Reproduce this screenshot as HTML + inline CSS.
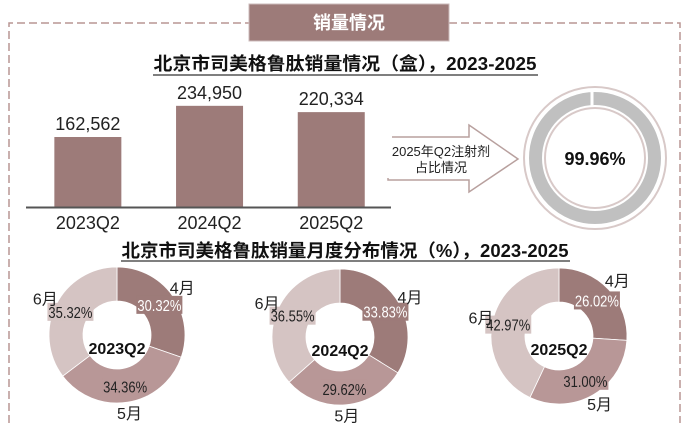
<!DOCTYPE html>
<html><head><meta charset="utf-8">
<style>
html,body{margin:0;padding:0;background:#fff;}
svg{display:block;font-family:"Liberation Sans","Noto Sans CJK SC",sans-serif;}
</style></head>
<body>
<svg id="chart" width="686" height="423" viewBox="0 0 686 423" xmlns="http://www.w3.org/2000/svg">
  <path d="M9,423 V23 H249 M449,23 H680 V423" fill="none" stroke="#b99594" stroke-width="1.5" stroke-dasharray="8,4"/>
  <rect x="249" y="4" width="200" height="37" fill="#9d7b79" stroke="#cbb" stroke-width="1"/>
  <text x="349" y="29" text-anchor="middle" font-size="18" font-weight="bold" fill="#fff">销量情况</text>

  <text x="345" y="70" text-anchor="middle" font-size="18" font-weight="bold" fill="#111" textLength="383" lengthAdjust="spacingAndGlyphs">北京市司美格鲁肽销量情况（盒），2023-2025</text>
  <line x1="153" y1="75" x2="538" y2="75" stroke="#333" stroke-width="1.2"/>
  <g id="bars"></g>
  <line x1="26" y1="207.5" x2="391" y2="207.5" stroke="#555" stroke-width="2"/>

  <polygon points="388,137 469,137 469,125 518,159 469,192 469,180 388,180" fill="#fff" stroke="#b8a09e" stroke-width="1.5"/>
  <rect x="386" y="130" width="6" height="48" fill="#fff"/>
  <text x="441" y="156" text-anchor="middle" font-size="13" fill="#222">2025年Q2注射剂</text>
  <text x="441" y="172" text-anchor="middle" font-size="13" fill="#222">占比情况</text>

  <circle cx="595" cy="158" r="71" fill="none" stroke="#d8c9c8" stroke-width="2"/>
  <circle cx="595" cy="158" r="59.5" fill="none" stroke="#c0c0c0" stroke-width="13"/>
  <line x1="592" y1="90" x2="592" y2="108" stroke="#fff" stroke-width="3"/>
  <circle cx="595" cy="158" r="50" fill="none" stroke="#d8c9c8" stroke-width="2"/>
  <text x="595" y="165" text-anchor="middle" font-size="18" font-weight="bold" fill="#111">99.96%</text>

  <text x="345" y="257" text-anchor="middle" font-size="18" font-weight="bold" fill="#111" textLength="447" lengthAdjust="spacingAndGlyphs">北京市司美格鲁肽销量月度分布情况（%），2023-2025</text>
  <line x1="121" y1="261" x2="570" y2="261" stroke="#333" stroke-width="1.2"/>
  <g id="donuts"></g>
</svg>
<script>
const barCategories = ["2023Q2", "2024Q2", "2025Q2"];
const barValues = [162562, 234950, 220334];
const barLabels = ["162,562", "234,950", "220,334"];

const donutYears = ["2023Q2", "2024Q2", "2025Q2"];
const monthNames = ["4月", "5月", "6月"];
const share2023 = [30.32, 34.36, 35.32];
const share2024 = [33.83, 29.62, 36.55];
const share2025 = [26.02, 31.00, 42.97];

const NS = "http://www.w3.org/2000/svg";
function mk(tag, attrs, parent) {
  const e = document.createElementNS(NS, tag);
  for (const k in attrs) e.setAttribute(k, attrs[k]);
  parent.appendChild(e);
  return e;
}

const baseY = 207, pxPerUnit = 70 / 162562;
const bandStart = 26, bandW = 121.7, barW = 67;
const yScale = v => baseY - v * pxPerUnit;
const xScale = i => bandStart + bandW * i + (bandW - barW) / 2 + 1;
const gb = document.getElementById("bars");
barValues.forEach((v, i) => {
  const x = xScale(i), y = yScale(v);
  const r = mk("rect", {x: x, y: y, width: barW, height: baseY - y, fill: "#9d7b79"}, gb);
  
  
  const t = mk("text", {x: x + barW / 2, y: y - 7, "text-anchor": "middle", "font-size": 18, fill: "#222"}, gb);
  t.textContent = barLabels[i];
  
  
  const c = mk("text", {x: x + barW / 2, y: 229, "text-anchor": "middle", "font-size": 18, fill: "#222"}, gb);
  c.textContent = barCategories[i];
  
  
});

const colors = ["#9d7b79", "#b89797", "#d5c4c3"];
const textColors = ["#fff", "#222", "#222"];
const centers = [[117, 335], [340, 337], [559, 336]];
const rOut = 68, rIn = 34;
const gd = document.getElementById("donuts");
[share2023, share2024, share2025].forEach((vals, di) => {
  const [cx, cy] = centers[di];
  const total = vals.reduce((a, b) => a + b, 0);
  let acc = 0;
  const g = mk("g", {}, gd);
  
  
  const pt = (a, r) => [cx + r * Math.sin(a), cy - r * Math.cos(a)];
  const labels = [];
  vals.forEach((v, si) => {
    const a0 = acc / total * 2 * Math.PI;
    acc += v;
    const a1 = acc / total * 2 * Math.PI;
    const large = a1 - a0 > Math.PI ? 1 : 0;
    const [x0, y0] = pt(a0, rOut), [x1, y1] = pt(a1, rOut);
    const [x2, y2] = pt(a1, rIn), [x3, y3] = pt(a0, rIn);
    const p = mk("path", {d: `M${x0},${y0} A${rOut},${rOut} 0 ${large} 1 ${x1},${y1} L${x2},${y2} A${rIn},${rIn} 0 ${large} 0 ${x3},${y3} Z`, fill: colors[si], stroke: "#fff", "stroke-width": 0.8}, g);
    
    
    labels.push([(a0 + a1) / 2, si, v]);
  });
  labels.forEach(([am, si, v]) => {
    const [lx, ly] = pt(am, 52);
    const txt = v.toFixed(2) + "%";
    const bw = 46;
    const bg = mk("rect", {x: lx - bw / 2, y: ly - 9, width: bw, height: 18, fill: colors[si]}, g);
    
    
    const t = mk("text", {x: lx, y: ly + 6, "text-anchor": "middle", "font-size": 16, fill: textColors[si], textLength: 44, lengthAdjust: "spacingAndGlyphs"}, g);
    t.textContent = txt;
    
    
    const [mx, my] = pt(am, 80);
    const m = mk("text", {x: mx, y: my + 5, "text-anchor": "middle", "font-size": 16, fill: "#222"}, g);
    m.textContent = monthNames[si];
    
    
  });
  const ct = mk("text", {x: cx, y: cy + 19, "text-anchor": "middle", "font-size": 16, "font-weight": "bold", fill: "#111"}, g);
  ct.textContent = donutYears[di];
  
  
});
</script>
</body></html>
